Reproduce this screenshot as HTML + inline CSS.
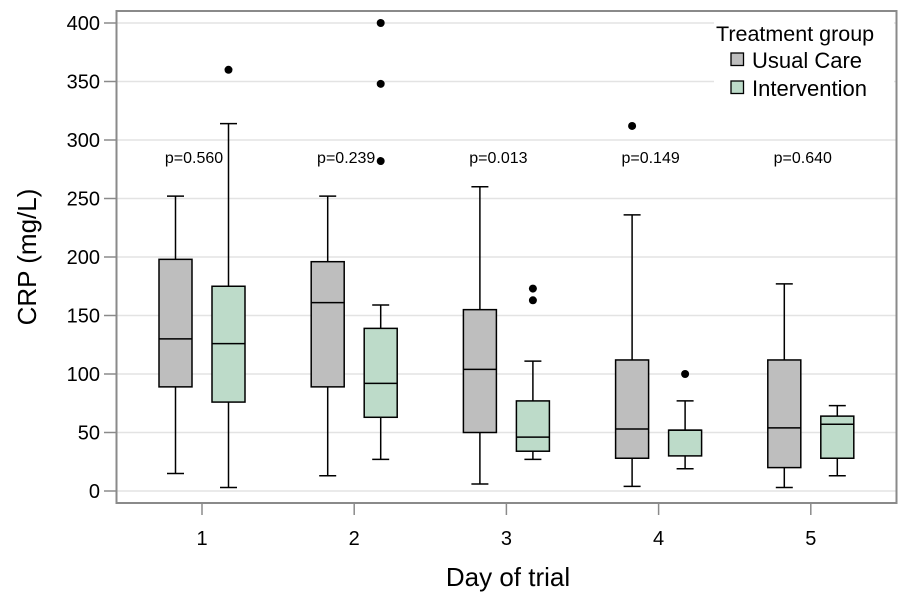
<!DOCTYPE html>
<html><head><meta charset="utf-8"><style>
html,body{margin:0;padding:0;background:#fff;}
svg{display:block;font-family:"Liberation Sans",Arial,sans-serif;}
</style></head><body>
<svg id="chart" width="904" height="596" viewBox="0 0 904 596" xmlns="http://www.w3.org/2000/svg">
<rect x="0" y="0" width="904" height="596" fill="#fff"/>
<g id="grid"></g>
<g id="legend-bg"><rect x="714" y="12" width="180" height="90" fill="#fff"/></g>
<g id="boxes"></g>
<rect x="116.5" y="11" width="780" height="492" fill="none" stroke="#8a8a8a" stroke-width="2"/>
<g id="axes"></g>
<text x="508" y="586" font-size="26" text-anchor="middle">Day of trial</text>
<text transform="translate(36,257) rotate(-90)" font-size="26" text-anchor="middle">CRP (mg/L)</text>
<g>
<text x="716" y="41" font-size="21.5">Treatment group</text>
<rect x="731" y="53" width="12.5" height="12.5" fill="#bebebe" stroke="#000" stroke-width="1.3"/>
<text x="752" y="68" font-size="22">Usual Care</text>
<rect x="731" y="81" width="12.5" height="12.5" fill="#bddbc9" stroke="#000" stroke-width="1.3"/>
<text x="752" y="96" font-size="22">Intervention</text>
</g>
</svg>
<script>
const days = ["1","2","3","4","5"];
const pValues = ["p=0.560","p=0.239","p=0.013","p=0.149","p=0.640"];
const yTicks = [0,50,100,150,200,250,300,350,400];
// [low, q1, median, q3, high]
const usualCare = [[15,89,130,198,252],[13,89,161,196,252],[6,50,104,155,260],[4,28,53,112,236],[3,20,54,112,177]];
const intervention = [[3,76,126,175,314],[27,63,92,139,159],[27,34,46,77,111],[19,30,52,52,77],[13,28,57,64,73]];
const usualCareOutliers = [[],[],[],[312],[]];
const interventionOutliers = [[360],[282,348,400],[163,173],[100],[]];

const NS="http://www.w3.org/2000/svg";
const y = v => 491 - v*(468/400);
const x = i => 202 + i*152.2;
function mk(tag, attrs, parent){const e=document.createElementNS(NS,tag);for(const k in attrs)e.setAttribute(k,attrs[k]);parent.appendChild(e);return e;}
const grid=document.getElementById('grid'), axes=document.getElementById('axes'), boxes=document.getElementById('boxes');
yTicks.forEach(t=>{
  const g=mk('line',{x1:117,x2:896,y1:y(t),y2:y(t),stroke:'#e3e3e3','stroke-width':1.5},grid);
  
  
  const tk=mk('line',{x1:104,x2:116,y1:y(t),y2:y(t),stroke:'#8a8a8a','stroke-width':1.5},axes);
  
  
  const tx=mk('text',{x:100,y:y(t)+7,'font-size':20,'text-anchor':'end'},axes);
  tx.textContent=t;
  
  
});
days.forEach((d,i)=>{
  const tk=mk('line',{x1:x(i),x2:x(i),y1:504,y2:515,stroke:'#8a8a8a','stroke-width':1.5},axes);
  
  
  const tx=mk('text',{x:x(i),y:545,'font-size':20,'text-anchor':'middle'},axes);
  tx.textContent=d;
  
  
  const p=mk('text',{x:x(i)-8,y:163,'font-size':16,'text-anchor':'middle'},boxes);
  p.textContent=pValues[i];
  
  
});
function drawBox(stats, outs, cx, fill, name){
  const g=mk('g',{},boxes);
  
  
  const [lo,q1,md,q3,hi]=stats, w=33, c=8.5;
  mk('line',{x1:cx,x2:cx,y1:y(hi),y2:y(q3),stroke:'#000','stroke-width':1.5},g);
  mk('line',{x1:cx,x2:cx,y1:y(q1),y2:y(lo),stroke:'#000','stroke-width':1.5},g);
  mk('line',{x1:cx-c,x2:cx+c,y1:y(hi),y2:y(hi),stroke:'#000','stroke-width':1.5},g);
  mk('line',{x1:cx-c,x2:cx+c,y1:y(lo),y2:y(lo),stroke:'#000','stroke-width':1.5},g);
  mk('rect',{x:cx-w/2,y:y(q3),width:w,height:Math.max(1,y(q1)-y(q3)),fill:fill,stroke:'#000','stroke-width':1.5},g);
  mk('line',{x1:cx-w/2,x2:cx+w/2,y1:y(md),y2:y(md),stroke:'#000','stroke-width':1.5},g);
  outs.forEach(o=>{
    const c2=mk('circle',{cx:cx,cy:y(o),r:4,fill:'#000'},boxes);
    
    
  });
}
days.forEach((d,i)=>{
  drawBox(usualCare[i],usualCareOutliers[i],x(i)-26.5,'#bebebe','box-usual-care-day-'+d);
  drawBox(intervention[i],interventionOutliers[i],x(i)+26.5,'#bddbc9','box-intervention-day-'+d);
});
</script>
</body></html>
